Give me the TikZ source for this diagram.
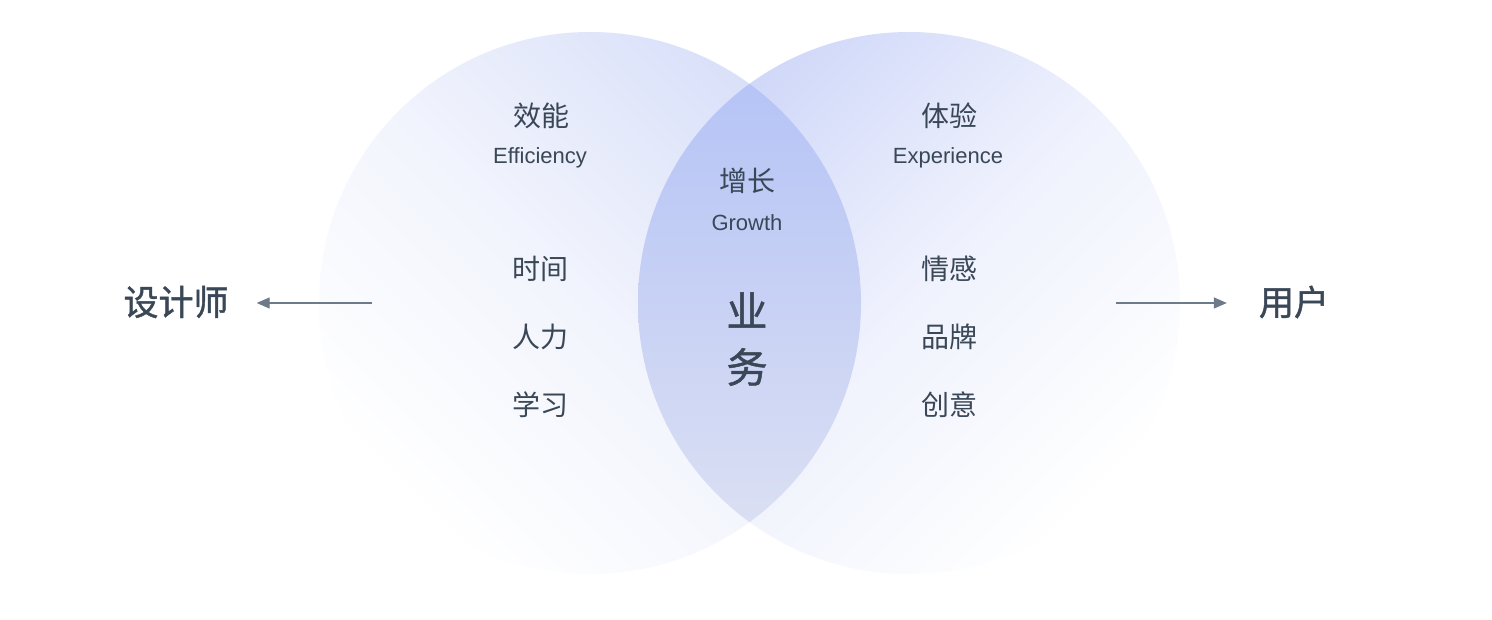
\documentclass[tikz,border=0pt]{standalone}
\usepackage{fontspec}
\setmainfont{Liberation Sans}
\newfontfamily\cjk{Noto Sans CJK SC}
\newfontfamily\cjkm[FakeBold=1.2]{Noto Sans CJK SC}
\usetikzlibrary{arrows.meta}
\definecolor{txt}{HTML}{394757}
\definecolor{arr}{HTML}{6D7A8A}
\definecolor{lblue}{HTML}{D9E0F9}
\definecolor{rblue}{HTML}{D0D8F9}
\definecolor{lenstop}{HTML}{B6C4F6}
\definecolor{lensbot}{HTML}{DADFF3}
\tikzset{
  cn/.style={font=\cjk\fontsize{28}{30}\selectfont, text=txt, inner sep=0pt},
  en/.style={font=\fontsize{22}{24}\selectfont, text=txt, inner sep=0pt},
  bigcn/.style={font=\cjkm\fontsize{41}{44}\selectfont, text=txt, inner sep=0pt},
  side/.style={font=\cjkm\fontsize{35}{36}\selectfont, text=txt, inner sep=0pt},
  conn/.style={draw=arr, line width=1.4pt, -{Triangle[length=13pt,width=11pt]}}
}
\begin{document}
\begin{tikzpicture}[x=1pt,y=-1pt]
\useasboundingbox (0,0) rectangle (1492,620);
\fill[white] (0,0) rectangle (1492,620);
% circles
\coordinate (cl) at (590,303);
\coordinate (cr) at (909,303);
\shade[top color=lblue, bottom color=white, middle color=lblue!35!white, shading angle=-45] (cl) circle[radius=271pt];
\shade[top color=rblue, bottom color=white, middle color=rblue!33!white, shading angle=45] (cr) circle[radius=271pt];
\begin{scope}
  \clip (cl) circle[radius=271pt];
  \clip (cr) circle[radius=271pt];
  \shade[top color=lenstop, bottom color=lensbot] (630,84) rectangle (870,522);
\end{scope}
% left texts
\node[cn] (xn) at (541,116) {效能};
\node[en] (eff) at (540,158) {Efficiency};
\node[cn] (sj) at (540,269) {时间};
\node[cn] (rl) at (540,337) {人力};
\node[cn] (xx) at (540,405) {学习};
% middle
\node[cn] (zz) at (747,181) {增长};
\node[en] (gr) at (747,223) {Growth};
\node[bigcn] (ye) at (747,310) {业};
\node[bigcn] (wu) at (747,367) {务};
% right texts
\node[cn] (ty) at (949,116) {体验};
\node[en] (exp) at (948,158) {Experience};
\node[cn] (qg) at (949,269) {情感};
\node[cn] (pp) at (949,337) {品牌};
\node[cn] (cy) at (949,405) {创意};
% sides
\node[side] (sjs) at (176,302) {设计师};
\node[side] (yh) at (1294,302) {用户};
\coordinate (la) at (372,303);
\coordinate (ra) at (1116,303);
\draw[conn, shorten >=28pt] (la) -- (sjs.east |- la);
\draw[conn, shorten >=32pt] (ra) -- (yh.west |- ra);
\end{tikzpicture}
\end{document}
